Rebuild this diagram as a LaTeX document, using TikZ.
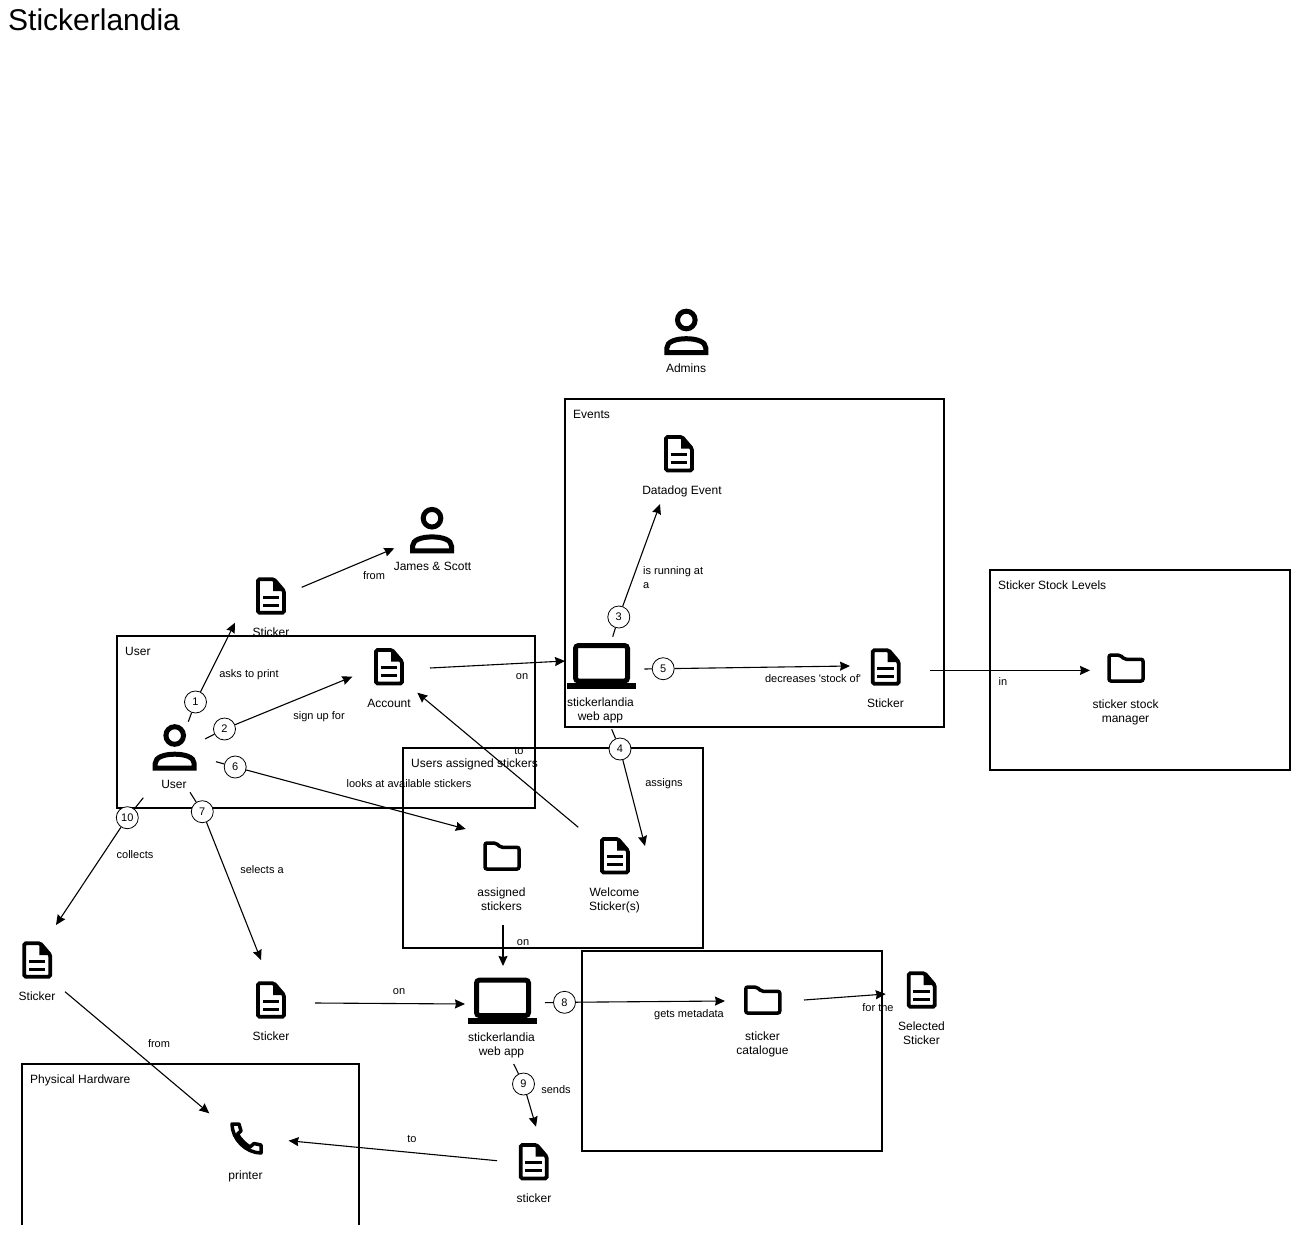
\documentclass[tikz,border=0pt]{standalone}
\usepackage{fontspec}
\setmainfont{Liberation Sans}
\usetikzlibrary{arrows.meta}

\tikzset{
  frame/.style={draw,line width=2pt,inner sep=0pt},
  iconspot/.style={inner sep=0pt,minimum size=1pt},
  stepnum/.style={circle,draw,fill=white,line width=.8pt,minimum size=22pt,inner sep=0pt,font=\fontsize{11}{13}\selectfont},
  link/.style={draw,line width=1.1pt},
  arrow/.style={link,-{Stealth[length=10pt,width=9pt,inset=1pt]}},
  lbl/.style={inner sep=0pt,text height=10pt,text depth=2pt,font=\fontsize{12}{14}\selectfont},
  lbltwo/.style={inner sep=0pt,align=center,font=\fontsize{12}{14}\selectfont},
  edgelbl/.style={inner sep=0pt,text height=9.5pt,text depth=2.5pt,font=\fontsize{11}{13}\selectfont},
  title/.style={lbl,anchor=west},
  docicon/.pic={
    \draw[line width=3.8pt,rounded corners=1.5pt] (-13,-16.7) -- (3,-16.7) -- (13,-5) -- (13,16.7) -- (-13,16.7) -- cycle;
    \fill (2,-16.7) -- (2,-5) -- (13,-5) -- cycle;
    \fill (-8.5,-.5) rectangle (8,2.5);
    \fill (-8.5,7.5) rectangle (8,10.5);
  },
  foldericon/.pic={
    \draw[line width=3.5pt,rounded corners=2pt] (-17,-13) -- (-6,-13) -- (-1.5,-8.7) -- (17,-8.7) -- (17,13) -- (-17,13) -- cycle;
  },
  usericon/.pic={
    \draw[line width=5pt] (0,-11.5) circle (8.8);
    \draw[line width=5pt] (-19.5,21.2) -- (-19.5,16.5) .. controls (-19.5,10) and (-10,7.2) .. (0,7.2) .. controls (10,7.2) and (19.5,10) .. (19.5,16.5) -- (19.5,21.2) -- cycle;
  },
  laptopicon/.pic={
    \draw[line width=5pt,rounded corners=3pt] (-26,-20.5) rectangle (26,15);
    \fill (-34.5,17) rectangle (34.5,23);
  },
  phoneicon/.pic={
    \draw[line width=3.5pt,line join=round] (-14,-15) -- (-7,-15) -- (-5,-8) -- (-8.5,-5) .. controls (-6,0) and (-1,5) .. (4,8) -- (8,4.5) -- (15,6) -- (15,14) .. controls (0,14) and (-14,0) .. (-14,-15) -- cycle;
  }
}

\begin{document}
\begin{tikzpicture}[x=1pt,y=-1pt]

      \useasboundingbox (0,0) rectangle (1310,1234);

      \node[inner sep=0pt,anchor=base west,font=\fontsize{30}{36}\selectfont] (pagetitle) at (8,30.4) {Stickerlandia};

      % boxes
      \node[frame,minimum width=418pt,minimum height=172pt] (userbox) at (326,722) {};
      \node[frame,minimum width=379pt,minimum height=328pt] (eventsbox) at (754.5,563) {};
      \node[frame,minimum width=300pt,minimum height=200pt] (stockbox) at (1140,670) {};
      \node[frame,minimum width=300pt,minimum height=200pt] (assignedbox) at (553,848) {};
      \node[frame,minimum width=300pt,minimum height=200pt] (cataloguebox) at (732,1051) {};
      \draw[line width=2pt] (22,1225) -- (22,1064) -- (359,1064) -- (359,1225);

      % box titles
      \node[title] (usertitle) at (125,651) {User};
      \node[title] (eventstitle) at (573,414) {Events};
      \node[title] (stocktitle) at (998,585) {Sticker Stock Levels};
      \node[title] (assignedtitle) at (411,763) {Users assigned stickers};
      \node[title] (hardwaretitle) at (30,1079) {Physical Hardware};

      % icons
      \path (174.7,747) node[iconspot] (user) {} pic {usericon};
      \path (432,529.7) node[iconspot] (james) {} pic {usericon};
      \path (686.3,331.5) node[iconspot] (admins) {} pic {usericon};
      \path (271,596) node[iconspot] (printsticker) {} pic {docicon};
      \path (389,666.7) node[iconspot] (account) {} pic {docicon};
      \path (679,453.7) node[iconspot] (datadog) {} pic {docicon};
      \path (885.7,667) node[iconspot] (stocksticker) {} pic {docicon};
      \path (615,855.7) node[iconspot] (welcome) {} pic {docicon};
      \path (37.3,960) node[iconspot] (collected) {} pic {docicon};
      \path (271,1000) node[iconspot] (selecta) {} pic {docicon};
      \path (533.7,1161.7) node[iconspot] (sent) {} pic {docicon};
      \path (921.7,990) node[iconspot] (selected) {} pic {docicon};
      \path (1126,668) node[iconspot] (stockmanager) {} pic {foldericon};
      \path (502,856) node[iconspot] (assigned) {} pic {foldericon};
      \path (762.8,1000) node[iconspot] (catalogue) {} pic {foldericon};
      \path (601.5,666) node[iconspot] (webapp) {} pic {laptopicon};
      \path (502.5,1000.6) node[iconspot] (webapptwo) {} pic {laptopicon};
      \path (246,1139) node[iconspot] (printer) {} pic {phoneicon};

      % icon labels
      \begin{scope}[every node/.style={lbl}]
        \node (usertext) at (174,784) {User};
        \node (jamestext) at (432.5,566) {James \& Scott};
        \node (adminstext) at (686,368) {Admins};
        \node (printtext) at (271,632) {Sticker};
        \node (accounttext) at (389,703) {Account};
        \node (datadogtext) at (682,490) {Datadog Event};
        \node (stocktext) at (885.5,703) {Sticker};
        \node (collectedtext) at (37,996) {Sticker};
        \node (selectatext) at (271,1036) {Sticker};
        \node (senttext) at (534,1198) {sticker};
        \node (printertext) at (245.5,1175) {printer};
      \end{scope}

      \begin{scope}[every node/.style={lbltwo}]
        \node (webapptext) at (600.5,710) {stickerlandia\\web app};
        \node (webapptwotext) at (501.5,1045) {stickerlandia\\web app};
        \node (managertext) at (1125.5,712) {sticker stock\\manager};
        \node (assignedtext) at (501.5,899) {assigned\\stickers};
        \node (welcometext) at (614.5,900) {Welcome\\Sticker(s)};
        \node (cataloguetext) at (762.5,1044) {sticker\\catalogue};
        \node (selectedtext) at (921.5,1033) {Selected\\Sticker};
      \end{scope}

      % connector labels
      \begin{scope}[every node/.style={edgelbl}]
        \node (askslbl) at (249,674) {asks to print};
        \node (signlbl) at (319,716) {sign up for};
        \node (onlbl) at (522,676) {on};
        \node (tolbl) at (519,751) {to};
        \node (lookslbl) at (409,784) {looks at available stickers};
        \node (fromlbl) at (374,576) {from};
        \node[anchor=west] (runlbl) at (643,571) {is running at};
        \node[anchor=west] (runlbltwo) at (643,585) {a};
        \node (decreaselbl) at (813,679) {decreases \textquotesingle stock of\textquotesingle};
        \node (assignslbl) at (664,783) {assigns};
        \node (inlbl) at (1003,682) {in};
        \node (collectslbl) at (135,855) {collects};
        \node (selectslbl) at (262,870) {selects a};
        \node (ontwolbl) at (523,942) {on};
        \node (onthreelbl) at (399,991) {on};
        \node (metalbl) at (689,1014) {gets metadata};
        \node (forlbl) at (878,1008) {for the};
        \node (fromtwolbl) at (159,1044) {from};
        \node (sendslbl) at (556,1090) {sends};
        \node (totwolbl) at (412,1139) {to};
      \end{scope}

      % numbered steps
      \begin{scope}[every node/.style={stepnum}]
        \node (n1) at (195.5,702) {1};
        \node (n2) at (224.5,729) {2};
        \node (n3) at (618.8,617) {3};
        \node (n4) at (620,749) {4};
        \node (n5) at (663.2,668.7) {5};
        \node (n6) at (235.2,767) {6};
        \node (n7) at (202.3,811.7) {7};
        \node (n8) at (564.5,1002.3) {8};
        \node (n9) at (523.5,1084) {9};
        \node (n10) at (127.3,817.7) {10};
      \end{scope}

      % connector ends
      \coordinate (userout1) at (188.3,721.7);
      \coordinate (printin) at (235,622.7);
      \coordinate (userout2) at (205,739);
      \coordinate (accountin) at (352.3,676.7);
      \coordinate (userout6) at (216,761.7);
      \coordinate (assignedin) at (465.7,829);
      \coordinate (userout7) at (190,792.3);
      \coordinate (selectain) at (261,960);
      \coordinate (userout10) at (143.3,797.7);
      \coordinate (collectedin) at (56,925);
      \coordinate (printout) at (301.7,587.3);
      \coordinate (jamesin) at (394.3,548.3);
      \coordinate (accountout) at (430,668);
      \coordinate (webappin) at (565,661);
      \coordinate (webappout3) at (612.7,636.7);
      \coordinate (datadogin) at (660,504);
      \coordinate (webappout5) at (644.3,669);
      \coordinate (stockin) at (850,666);
      \coordinate (stockout) at (930,670.4);
      \coordinate (managerin) at (1090,670.4);
      \coordinate (webappout4) at (611.7,729.3);
      \coordinate (welcomein) at (645,846);
      \coordinate (welcomeout) at (578.3,827.3);
      \coordinate (accountback) at (417.3,692.7);
      \coordinate (assignedout) at (503,925);
      \coordinate (webapptwoin) at (503,966);
      \coordinate (selectaout) at (315,1003);
      \coordinate (webapptwoside) at (465,1004);
      \coordinate (webapptwoout8) at (545,1002.7);
      \coordinate (cataloguein) at (725,1001);
      \coordinate (catalogueout) at (804,1000);
      \coordinate (selectedin) at (885.7,994);
      \coordinate (webapptwoout9) at (513.7,1064);
      \coordinate (sentin) at (536,1126.7);
      \coordinate (sentout) at (497,1160.7);
      \coordinate (printerin) at (288.6,1140.7);
      \coordinate (collectedout) at (65,991.7);
      \coordinate (printertop) at (209.3,1113.3);

      % connectors
      \path (userout1) edge[link] (n1);
      \path (n1) edge[arrow] (printin);
      \path (userout2) edge[link] (n2);
      \path (n2) edge[arrow] (accountin);
      \path (userout6) edge[link] (n6);
      \path (n6) edge[arrow] (assignedin);
      \path (userout7) edge[link] (n7);
      \path (n7) edge[arrow] (selectain);
      \path (userout10) edge[link] (n10);
      \path (n10) edge[arrow] (collectedin);
      \path (webappout3) edge[link] (n3);
      \path (n3) edge[arrow] (datadogin);
      \path (webappout5) edge[link] (n5);
      \path (n5) edge[arrow] (stockin);
      \path (webappout4) edge[link] (n4);
      \path (n4) edge[arrow] (welcomein);
      \path (webapptwoout8) edge[link] (n8);
      \path (n8) edge[arrow] (cataloguein);
      \path (webapptwoout9) edge[link] (n9);
      \path (n9) edge[arrow] (sentin);
      \path (printout) edge[arrow] (jamesin);
      \path (accountout) edge[arrow] (webappin);
      \path (stockout) edge[arrow] (managerin);
      \path (welcomeout) edge[arrow] (accountback);
      \path (assignedout) edge[arrow] (webapptwoin);
      \path (selectaout) edge[arrow] (webapptwoside);
      \path (catalogueout) edge[arrow] (selectedin);
      \path (sentout) edge[arrow] (printerin);
      \path (collectedout) edge[arrow] (printertop);

    \end{tikzpicture}
\end{document}
